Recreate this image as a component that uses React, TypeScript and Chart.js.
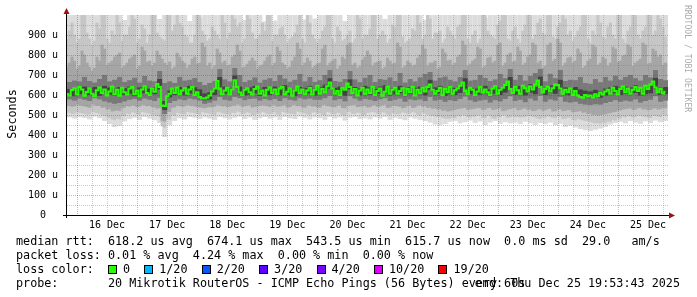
import { useEffect, useRef } from 'react';
import { Chart, registerables } from 'chart.js';

Chart.register(...registerables);

// ---- axis / tick data ----
const dayLabels = ['16 Dec', '17 Dec', '18 Dec', '19 Dec', '20 Dec', '21 Dec', '22 Dec', '23 Dec', '24 Dec', '25 Dec'];
// hours since Dec 15 20:00 (noon of each day)
const dayTickHours = [16, 40, 64, 88, 112, 136, 160, 184, 208, 232];
const yTickValues = [0, 100, 200, 300, 400, 500, 600, 700, 800, 900];
const xMaxHours = 240;
const yMax = 1000;

// ---- hourly series (microseconds), rows of 12 hours starting Dec 15 20:00 ----
const medianRtt = [
  605, 598, 625, 634, 603, 640, 628, 596, 615, 632, 606, 594,
  624, 638, 610, 628, 598, 618, 642, 604, 626, 596, 636, 614,
  602, 632, 640, 604, 622, 594, 628, 644, 610, 600, 632, 616,
  655, 640, 548, 545, 594, 606, 632, 610, 638, 604, 622, 634,
  606, 628, 640, 600, 614, 590, 584, 582, 588, 598, 618, 632,
  670, 630, 604, 622, 636, 602, 628, 674, 640, 612, 600, 626,
  634, 614, 602, 630, 642, 606, 622, 598, 626, 638, 610, 628,
  604, 632, 640, 602, 616, 634, 596, 622, 642, 610, 628, 604,
  622, 636, 602, 626, 646, 606, 630, 614, 644, 662, 632, 606,
  620, 600, 636, 626, 657, 640, 610, 630, 598, 622, 636, 606,
  628, 610, 640, 600, 620, 632, 596, 616, 642, 606, 626, 636,
  606, 620, 634, 600, 630, 614, 640, 598, 626, 610, 636, 618,
  640, 652, 626, 606, 620, 636, 600, 630, 614, 640, 606, 624,
  632, 646, 662, 620, 604, 636, 626, 600, 618, 640, 612, 628,
  614, 600, 632, 644, 606, 626, 636, 650, 667, 630, 610, 640,
  624, 606, 646, 634, 618, 642, 628, 652, 672, 640, 612, 630,
  642, 618, 634, 652, 650, 632, 606, 626, 614, 632, 600, 620,
  598, 590, 586, 600, 592, 598, 588, 604, 594, 612, 602, 618,
  626, 606, 636, 620, 602, 630, 642, 614, 632, 606, 626, 640,
  620, 636, 606, 646, 630, 652, 667, 638, 614, 630, 608, 616,
];
const smokeP05 = [
  512, 514, 507, 509, 516, 513, 511, 508, 504, 506, 519, 515,
  511, 508, 500, 497, 492, 486, 480, 476, 484, 480, 498, 496,
  509, 506, 515, 512, 505, 503, 517, 514, 511, 509, 503, 500,
  496, 493, 445, 438, 482, 478, 501, 499, 513, 510, 507, 505,
  517, 514, 513, 510, 507, 504, 516, 513, 511, 509, 505, 502,
  515, 517, 510, 508, 506, 504, 513, 511, 519, 516, 507, 509,
  515, 512, 501, 504, 511, 508, 517, 514, 508, 506, 513, 516,
  505, 503, 517, 514, 511, 509, 507, 505, 519, 516, 513, 510,
  505, 503, 513, 516, 509, 511, 502, 499, 517, 514, 507, 505,
  513, 510, 501, 498, 515, 518, 507, 509, 513, 511, 500, 502,
  512, 514, 517, 514, 508, 505, 515, 513, 504, 501, 511, 509,
  505, 508, 515, 512, 508, 510, 516, 513, 503, 500, 513, 509,
  503, 500, 497, 495, 491, 493, 487, 484, 482, 485, 489, 486,
  497, 494, 501, 499, 491, 489, 493, 495, 500, 502, 488, 486,
  499, 496, 485, 482, 493, 491, 499, 501, 487, 490, 494, 491,
  491, 489, 490, 492, 499, 496, 492, 489, 484, 481, 490, 488,
  495, 492, 487, 485, 495, 493, 481, 484, 487, 490, 477, 474,
  482, 479, 475, 472, 469, 467, 463, 460, 461, 458, 465, 462,
  470, 468, 477, 474, 486, 484, 493, 490, 497, 494, 490, 492,
  500, 498, 495, 492, 489, 486, 498, 496, 493, 491, 502, 499,
];
const smokeP95 = [
  880, 920, 960, 900, 860, 880, 1000, 1000, 910, 880, 850, 870,
  960, 930, 1000, 1000, 880, 860, 920, 900, 1000, 960, 870, 900,
  900, 940, 1000, 980, 860, 880, 950, 930, 860, 900, 1000, 1000,
  910, 890, 880, 870, 1000, 1000, 920, 950, 1000, 960, 940, 900,
  890, 860, 860, 900, 1000, 1000, 920, 900, 870, 880, 940, 920,
  900, 880, 1000, 960, 880, 910, 1000, 980, 940, 960, 860, 880,
  1000, 980, 910, 880, 880, 900, 960, 920, 1000, 1000, 870, 900,
  900, 930, 940, 900, 860, 880, 890, 910, 950, 1000, 880, 860,
  1000, 960, 900, 880, 860, 880, 920, 940, 1000, 1000, 880, 860,
  940, 920, 870, 880, 900, 920, 860, 880, 1000, 980, 880, 900,
  900, 930, 1000, 1000, 880, 900, 920, 900, 860, 880, 950, 940,
  1000, 1000, 890, 860, 870, 880, 930, 920, 1000, 960, 880, 900,
  1000, 980, 880, 910, 910, 920, 860, 880, 940, 920, 900, 880,
  940, 950, 1000, 1000, 880, 860, 900, 920, 860, 880, 1000, 1000,
  920, 900, 890, 880, 950, 970, 1000, 1000, 880, 870, 920, 940,
  880, 860, 920, 950, 1000, 1000, 880, 900, 960, 980, 910, 900,
  1000, 1000, 890, 880, 940, 960, 1000, 980, 900, 920, 870, 890,
  920, 940, 1000, 1000, 880, 860, 920, 900, 1000, 960, 890, 880,
  940, 960, 900, 880, 1000, 1000, 880, 860, 920, 940, 1000, 1000,
  900, 880, 920, 940, 1000, 1000, 900, 920, 1000, 980, 940, 890,
];
const smokeP15 = [
  548, 550, 543, 546, 553, 550, 547, 545, 541, 538, 555, 552,
  547, 549, 537, 540, 529, 532, 519, 522, 525, 521, 535, 538,
  547, 544, 551, 548, 541, 544, 553, 551, 546, 549, 541, 539,
  533, 536, 472, 468, 520, 517, 537, 540, 549, 546, 543, 545,
  552, 549, 548, 545, 542, 539, 537, 535, 539, 541, 541, 543,
  553, 550, 545, 547, 541, 543, 548, 549, 555, 552, 543, 545,
  549, 551, 539, 542, 545, 547, 551, 548, 546, 542, 553, 551,
  543, 545, 549, 552, 539, 541, 551, 553, 546, 549, 541, 538,
  549, 551, 544, 546, 540, 538, 551, 553, 547, 545, 542, 540,
  549, 551, 537, 535, 547, 550, 551, 553, 541, 543, 545, 547,
  539, 541, 549, 551, 543, 545, 551, 553, 537, 539, 547, 549,
  545, 543, 535, 538, 547, 549, 537, 539, 549, 551, 543, 546,
  537, 539, 533, 535, 529, 531, 523, 525, 519, 521, 525, 527,
  531, 533, 535, 537, 527, 529, 531, 533, 537, 535, 527, 529,
  535, 537, 527, 529, 533, 535, 521, 523, 529, 531, 535, 537,
  525, 527, 533, 535, 527, 529, 521, 523, 529, 531, 523, 525,
  531, 533, 519, 521, 529, 531, 521, 523, 527, 525, 515, 517,
  519, 521, 513, 515, 507, 509, 501, 503, 499, 501, 503, 505,
  509, 511, 515, 517, 523, 525, 529, 531, 533, 535, 527, 529,
  535, 537, 529, 531, 525, 527, 533, 535, 529, 531, 537, 535,
];
const smokeP85 = [
  740, 760, 790, 770, 730, 745, 820, 800, 760, 740, 720, 735,
  790, 770, 850, 830, 750, 760, 770, 790, 800, 810, 735, 745,
  760, 780, 790, 800, 730, 745, 840, 820, 765, 770, 745, 760,
  820, 800, 780, 760, 750, 765, 730, 740, 810, 790, 770, 760,
  735, 750, 780, 790, 755, 760, 860, 840, 745, 760, 730, 745,
  830, 810, 760, 770, 745, 750, 790, 800, 850, 820, 735, 740,
  755, 770, 785, 770, 730, 745, 750, 770, 790, 800, 745, 760,
  840, 820, 760, 750, 730, 740, 770, 790, 860, 830, 745, 760,
  785, 770, 735, 745, 755, 760, 830, 850, 745, 760, 770, 780,
  730, 745, 790, 780, 850, 860, 750, 760, 735, 745, 775, 790,
  820, 800, 745, 760, 765, 770, 730, 740, 785, 770, 755, 760,
  860, 840, 735, 745, 770, 760, 745, 750, 785, 800, 850, 830,
  745, 760, 760, 770, 730, 740, 830, 810, 770, 775, 750, 760,
  790, 800, 870, 850, 745, 755, 770, 780, 840, 830, 735, 745,
  785, 790, 760, 770, 850, 860, 745, 760, 800, 810, 765, 770,
  840, 820, 750, 760, 790, 800, 860, 850, 760, 770, 735, 745,
  850, 860, 770, 780, 880, 860, 745, 760, 785, 790, 760, 770,
  830, 810, 735, 745, 770, 780, 850, 840, 750, 760, 790, 780,
  745, 760, 840, 830, 765, 770, 795, 800, 850, 840, 745, 760,
  770, 780, 860, 850, 755, 760, 830, 820, 790, 800, 750, 760,
];

// ---- 2-hour series (microseconds), one value per 2-hour column ----
const smokeMin = [
  488, 482, 490, 485, 478, 492, 484, 470, 455, 440,
  445, 468, 480, 486, 476, 490, 482, 474, 460, 390,
  448, 470, 484, 478, 490, 486, 480, 488, 482, 476,
  490, 484, 478, 486, 492, 480, 488, 476, 484, 490,
  482, 488, 476, 490, 484, 480, 492, 486, 478, 488,
  484, 476, 490, 482, 488, 472, 486, 490, 480, 484,
  478, 488, 482, 490, 476, 486, 480, 474, 488, 482,
  476, 470, 462, 452, 448, 455, 466, 470, 458, 464,
  472, 460, 468, 450, 462, 470, 456, 464, 458, 462,
  455, 466, 458, 450, 460, 454, 462, 448, 456, 440,
  446, 438, 430, 424, 420, 426, 432, 440, 452, 460,
  466, 458, 470, 462, 456, 468, 460, 472, 464, 470,
];
const smokeMax = [
  1000, 1000, 1000, 1000, 1000, 1000, 1000, 1000, 1000, 1000,
  1000, 975, 1000, 1000, 1000, 1000, 1000, 1000, 980, 1000,
  1000, 1000, 1000, 1000, 970, 1000, 985, 1000, 1000, 1000,
  1000, 1000, 1000, 1000, 1000, 975, 1000, 1000, 1000, 968,
  1000, 972, 1000, 1000, 1000, 1000, 1000, 978, 1000, 982,
  1000, 1000, 1000, 1000, 1000, 970, 1000, 1000, 1000, 1000,
  1000, 1000, 1000, 980, 1000, 1000, 1000, 1000, 1000, 1000,
  1000, 976, 1000, 1000, 1000, 1000, 1000, 1000, 1000, 1000,
  1000, 1000, 1000, 985, 1000, 1000, 1000, 1000, 1000, 1000,
  1000, 1000, 1000, 1000, 1000, 1000, 1000, 1000, 1000, 1000,
  1000, 1000, 1000, 1000, 1000, 1000, 1000, 1000, 1000, 1000,
  1000, 1000, 1000, 1000, 1000, 1000, 1000, 1000, 1000, 1000,
];
const smokeP30 = [
  578, 572, 582, 576, 570, 584, 578, 568, 562, 556,
  560, 568, 576, 580, 572, 582, 576, 570, 585, 505,
  560, 570, 578, 574, 582, 578, 572, 556, 562, 572,
  590, 576, 572, 590, 584, 574, 580, 582, 572, 580,
  574, 580, 570, 584, 576, 572, 584, 578, 582, 576,
  576, 584, 596, 574, 580, 568, 594, 582, 572, 580,
  576, 570, 578, 584, 570, 576, 582, 566, 578, 574,
  578, 570, 590, 572, 576, 566, 574, 570, 580, 592,
  574, 566, 572, 576, 562, 574, 568, 580, 594, 570,
  576, 564, 582, 572, 596, 566, 578, 572, 590, 566,
  562, 566, 556, 552, 550, 554, 552, 560, 566, 574,
  566, 572, 568, 578, 562, 570, 576, 594, 566, 572,
];
const smokeP70 = [
  665, 672, 668, 690, 670, 662, 680, 700, 668, 676,
  690, 665, 674, 686, 662, 695, 672, 668, 720, 660,
  668, 660, 690, 672, 676, 685, 665, 650, 660, 670,
  730, 678, 668, 735, 700, 665, 674, 688, 662, 676,
  684, 670, 700, 682, 666, 676, 705, 668, 690, 665,
  674, 700, 725, 670, 666, 680, 720, 678, 664, 686,
  700, 665, 680, 676, 688, 670, 710, 662, 680, 668,
  688, 705, 715, 672, 686, 692, 676, 668, 690, 725,
  672, 676, 700, 685, 670, 678, 705, 684, 730, 676,
  700, 672, 695, 710, 730, 668, 706, 684, 725, 670,
  676, 674, 690, 660, 656, 680, 664, 690, 672, 696,
  676, 690, 700, 684, 672, 700, 688, 725, 680, 674,
];
const smokeP42 = [
  600, 594, 604, 608, 600, 606, 596, 608, 602, 598,
  604, 600, 606, 594, 602, 608, 598, 604, 628, 525,
  588, 600, 604, 598, 608, 602, 594, 574, 578, 600,
  640, 606, 600, 645, 604, 598, 602, 608, 596, 604,
  600, 606, 598, 610, 602, 594, 604, 600, 608, 598,
  602, 612, 632, 600, 606, 596, 628, 604, 598, 608,
  602, 596, 606, 610, 598, 602, 608, 594, 604, 600,
  606, 598, 626, 602, 608, 596, 604, 600, 610, 632,
  604, 598, 602, 608, 594, 606, 600, 612, 636, 602,
  608, 598, 612, 604, 638, 600, 610, 606, 624, 602,
  598, 604, 594, 588, 584, 590, 586, 598, 602, 608,
  600, 606, 602, 610, 598, 604, 608, 632, 600, 604,
];
const smokeP58 = [
  630, 628, 636, 642, 634, 640, 630, 646, 638, 632,
  640, 634, 642, 628, 638, 646, 632, 640, 680, 570,
  622, 634, 640, 632, 646, 638, 628, 608, 614, 636,
  690, 642, 636, 698, 642, 632, 638, 646, 630, 640,
  636, 642, 634, 650, 638, 628, 640, 636, 646, 632,
  638, 652, 684, 636, 642, 630, 678, 640, 632, 646,
  638, 630, 642, 650, 632, 638, 646, 628, 640, 636,
  642, 634, 676, 638, 646, 630, 640, 636, 650, 684,
  640, 632, 638, 646, 628, 642, 636, 652, 690, 638,
  646, 632, 654, 640, 692, 636, 650, 642, 676, 638,
  632, 640, 628, 622, 618, 626, 620, 632, 638, 646,
  636, 642, 638, 650, 632, 640, 646, 686, 636, 640,
];

// ---- legend texts ----
const legendRtt = 'median rtt:  618.2 us avg  674.1 us max  543.5 us min  615.7 us now  0.0 ms sd  29.0   am/s';
const legendLoss = 'packet loss: 0.01 % avg  4.24 % max  0.00 % min  0.00 % now';
const lossTitle = 'loss color:  ';
const lossLabels = ['0', '1/20', '2/20', '3/20', '4/20', '10/20', '19/20'];
const lossColors = ['#26ff00', '#00b8ff', '#0059ff', '#5e00ff', '#7e00ff', '#dd00ff', '#ff0000'];
const probeText = 'probe:       20 Mikrotik RouterOS - ICMP Echo Pings (56 Bytes) every 60s';
const endText = 'end: Thu Dec 25 19:53:43 2025';
const yTitle = 'Seconds';
const sideText = 'RRDTOOL / TOBI OETIKER';

const MONO = '"DejaVu Sans Mono", monospace';

// time axis positions (hours since start)
const hourCenters = medianRtt.map((_, h) => h);
const twoHourCenters = smokeMin.map((_, i) => 2 * i + 1);

const bands = [
  { lo: smokeMin, hi: smokeMax, color: '#dcdcdc', xs: twoHourCenters, pct: 2 },
  { lo: smokeP05, hi: smokeP95, color: '#c6c6c6', xs: hourCenters, pct: 1 },
  { lo: smokeP15, hi: smokeP85, color: '#a6a6a6', xs: hourCenters, pct: 1 },
  { lo: smokeP30, hi: smokeP70, color: '#787878', xs: twoHourCenters, pct: 2 },
  { lo: smokeP42, hi: smokeP58, color: '#434343', xs: twoHourCenters, pct: 2 },
];

function drawGrid(chart: any) {
  const { ctx, chartArea: a, scales } = chart;
  const x = scales.x;
  const y = scales.y;
  ctx.save();
  ctx.lineWidth = 1;
  ctx.setLineDash([1, 1]);
  for (let v = 50; v < yMax; v += 50) {
    const py = Math.round(y.getPixelForValue(v)) + 0.5;
    ctx.strokeStyle = v % 100 === 0 ? 'rgba(255,0,0,0.38)' : 'rgba(130,130,130,0.42)';
    ctx.beginPath();
    ctx.moveTo(a.left, py);
    ctx.lineTo(a.right, py);
    ctx.stroke();
  }
  for (let h = 4; h < xMaxHours; h += 6) {
    const px = Math.round(x.getPixelForValue(h)) + 0.5;
    ctx.strokeStyle = (h - 4) % 24 === 0 ? 'rgba(255,0,0,0.38)' : 'rgba(130,130,130,0.42)';
    ctx.beginPath();
    ctx.moveTo(px, a.top);
    ctx.lineTo(px, a.bottom);
    ctx.stroke();
  }
  ctx.restore();
}

function drawDecor(chart: any) {
  const { ctx, chartArea: a } = chart;
  ctx.save();
  ctx.strokeStyle = '#000';
  ctx.lineWidth = 1;
  ctx.setLineDash([]);
  ctx.beginPath();
  ctx.moveTo(a.left - 0.5, a.bottom + 3);
  ctx.lineTo(a.left - 0.5, a.top - 2);
  ctx.moveTo(a.left - 4, a.bottom + 0.5);
  ctx.lineTo(a.right + 2, a.bottom + 0.5);
  ctx.stroke();
  ctx.fillStyle = '#9b1010';
  ctx.beginPath();
  ctx.moveTo(a.left - 0.5, a.top - 7);
  ctx.lineTo(a.left - 3.5, a.top - 1);
  ctx.lineTo(a.left + 2.5, a.top - 1);
  ctx.closePath();
  ctx.fill();
  ctx.beginPath();
  ctx.moveTo(a.right + 7, a.bottom + 0.5);
  ctx.lineTo(a.right + 1, a.bottom - 2.5);
  ctx.lineTo(a.right + 1, a.bottom + 3.5);
  ctx.closePath();
  ctx.fill();

  ctx.fillStyle = '#000';
  ctx.font = `11.75px ${MONO}`;
  ctx.save();
  ctx.translate(16, 114);
  ctx.rotate(-Math.PI / 2);
  ctx.textAlign = 'center';
  ctx.textBaseline = 'alphabetic';
  ctx.fillText(yTitle, 0, 0);
  ctx.restore();

  ctx.save();
  ctx.font = `8.1px ${MONO}`;
  ctx.fillStyle = '#aaaaaa';
  ctx.translate(685, 5);
  ctx.rotate(Math.PI / 2);
  ctx.textAlign = 'left';
  ctx.textBaseline = 'alphabetic';
  ctx.fillText(sideText, 0, 0);
  ctx.restore();

  ctx.font = `11.75px ${MONO}`;
  ctx.textAlign = 'left';
  ctx.textBaseline = 'alphabetic';
  ctx.fillStyle = '#000';
  const cw = ctx.measureText('0').width;
  ctx.fillText(legendRtt, 16, 245);
  ctx.fillText(legendLoss, 16, 259);
  ctx.fillText(lossTitle, 16, 273);
  let lx = 16 + cw * lossTitle.length;
  lossLabels.forEach((lab, i) => {
    const bx = Math.round(lx);
    ctx.fillStyle = lossColors[i];
    ctx.fillRect(bx, 265, 9, 9);
    ctx.strokeStyle = '#000';
    ctx.strokeRect(bx + 0.5, 265.5, 8, 8);
    ctx.fillStyle = '#000';
    const tx = lx + 15;
    ctx.fillText(lab, tx, 273);
    lx = tx + ctx.measureText(lab).width + 2 * cw;
  });
  ctx.fillText(probeText, 16, 286.5);
  ctx.textAlign = 'right';
  ctx.fillText(endText, 680, 286.5);
  ctx.restore();
}

export default function App() {
  const ref = useRef<HTMLCanvasElement | null>(null);
  useEffect(() => {
    if (!ref.current) return;
    const datasets: any[] = bands.map((b, k) => ({
      type: 'bar',
      data: b.lo.map((lo, i) => ({ x: b.xs[i], y: [lo, b.hi[i]] })),
      backgroundColor: b.color,
      borderWidth: 0,
      borderSkipped: false,
      grouped: false,
      barPercentage: b.pct,
      categoryPercentage: 1,
      order: 10 - k,
    }));
    datasets.push({
      type: 'line',
      data: medianRtt.map((v, i) => ({ x: hourCenters[i], y: v })),
      borderColor: '#26ff00',
      borderWidth: 2,
      pointRadius: 0,
      stepped: 'middle',
      fill: false,
      order: 0,
    });
    const chart = new Chart(ref.current, {
      type: 'bar',
      data: { datasets },
      options: {
        animation: false,
        responsive: false,
        devicePixelRatio: 1,
        layout: { padding: { left: 0, top: 14, right: 29, bottom: 0 } },
        plugins: { legend: { display: false }, tooltip: { enabled: false } },
        scales: {
          x: {
            type: 'linear',
            min: 0,
            max: xMaxHours,
            offset: false,
            grid: { display: false, drawTicks: false },
            border: { display: false },
            afterBuildTicks: (s: any) => {
              s.ticks = dayTickHours.map((v) => ({ value: v }));
            },
            afterFit: (s: any) => {
              s.height = 82;
            },
            ticks: {
              autoSkip: false,
              maxRotation: 0,
              padding: 4,
              color: '#000',
              font: { family: MONO, size: 10 },
              callback: (v: any) => dayLabels[dayTickHours.indexOf(Number(v))] ?? '',
            },
          },
          y: {
            type: 'linear',
            min: 0,
            max: yMax,
            grid: { display: false, drawTicks: false },
            border: { display: false },
            afterBuildTicks: (s: any) => {
              s.ticks = yTickValues.map((v) => ({ value: v }));
            },
            afterFit: (s: any) => {
              s.width = 67;
            },
            ticks: {
              padding: 9,
              color: '#000',
              font: { family: MONO, size: 10 },
              callback: (v: any) => (Number(v) === 0 ? '0  ' : `${v} u`),
            },
          },
        },
      },
      plugins: [
        {
          id: 'smokeGrid',
          afterDatasetDraw(c: any, args: any) {
            if (args.index === bands.length - 1) drawGrid(c);
          },
          afterDraw(c: any) {
            drawDecor(c);
          },
        },
      ],
    } as any);
    return () => chart.destroy();
  }, []);
  return (
    <div style={{ position: 'fixed', left: 0, top: 0, width: 697, height: 297, background: '#fff' }}>
      <canvas ref={ref} width={697} height={297} style={{ display: 'block' }} />
    </div>
  );
}
